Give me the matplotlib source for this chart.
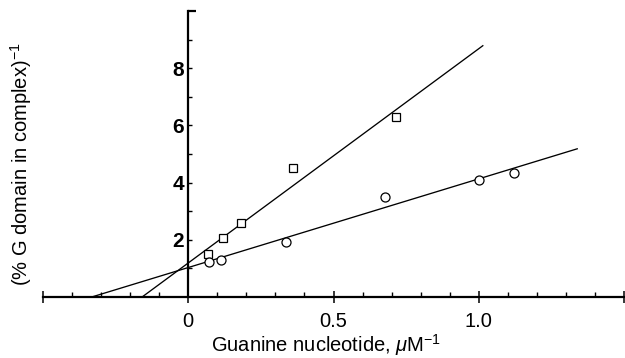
"""Double-reciprocal plot: G domain complex vs guanine nucleotide."""

import matplotlib

matplotlib.use("Agg")
import matplotlib.pyplot as plt  # noqa: E402
import numpy as np  # noqa: E402
from matplotlib.ticker import FixedLocator, MultipleLocator  # noqa: E402

plt.rcParams["font.family"] = ["Liberation Sans", "DejaVu Sans"]
plt.rcParams["mathtext.fontset"] = "custom"
plt.rcParams["mathtext.rm"] = "Liberation Sans"
plt.rcParams["mathtext.it"] = "Liberation Sans:italic"

INK = "black"

# squares
sq_x = [0.067, 0.12, 0.18, 0.36, 0.715]
sq_y = [1.50, 2.05, 2.57, 4.52, 6.28]
# circles
circ_x = [0.072, 0.113, 0.338, 0.678, 1.001, 1.123]
circ_y = [1.21, 1.31, 1.93, 3.49, 4.08, 4.34]

# fitted lines: slope, intercept, x range
sq_fit = (7.49, 1.19)
sq_fit_x = [-0.159, 1.014]
circ_fit = (3.10, 1.03)
circ_fit_x = [-0.332, 1.339]

x_major = [-0.5, 0, 0.5, 1.0, 1.5]
x_labels = ["", "0", "0.5", "1.0", ""]
y_major = [2, 4, 6, 8]

fig = plt.figure(figsize=(6.25, 3.58), dpi=100)
ax = fig.add_axes([0.0688, 0.1704, 0.9296, 0.799])
ax.set_xlim(-0.5, 1.5)
ax.set_ylim(0, 10)

for (m, b), xr in [(sq_fit, sq_fit_x), (circ_fit, circ_fit_x)]:
    xs = np.array(xr)
    ax.plot(xs, m * xs + b, color=INK, lw=0.95, clip_on=False)

ax.plot(sq_x, sq_y, ls="none", marker="s", ms=5.2, mfc="white", mec=INK, mew=0.9)
ax.plot(circ_x, circ_y, ls="none", marker="o", ms=6.5, mfc="white", mec=INK, mew=0.9)

# axes cross at the origin
for side in ("top", "right"):
    ax.spines[side].set_visible(False)
ax.spines["left"].set_position(("data", 0))
ax.spines["bottom"].set_position(("data", 0))
ax.spines["left"].set_linewidth(1.6)
ax.spines["bottom"].set_linewidth(1.6)
ax.spines["left"].set_bounds(0, 10)

ax.xaxis.set_major_locator(FixedLocator(x_major))
ax.set_xticklabels(x_labels)
ax.xaxis.set_minor_locator(MultipleLocator(0.1))
ax.tick_params(axis="x", which="major", direction="inout", length=9, width=1.1,
               pad=6, labelsize=14.5)
ax.tick_params(axis="x", which="minor", direction="in", length=3.5, width=1.0)

ax.yaxis.set_major_locator(FixedLocator(y_major))
ax.yaxis.set_minor_locator(FixedLocator([1, 3, 5, 7, 9]))
ax.tick_params(axis="y", which="major", direction="in", length=3, width=1.0,
               pad=3, labelsize=15)
ax.tick_params(axis="y", which="minor", direction="in", length=3, width=1.0)
for lbl in ax.get_yticklabels():
    lbl.set_fontweight("bold")

# cap at the top of the y axis
ax.plot([0, 0.025], [10, 10], color=INK, lw=1.6, clip_on=False, solid_capstyle="butt")

fig.text(0.522, 0.035, r"Guanine nucleotide, $\mathit{\mu}$M$^{-1}$",
         ha="center", va="center", fontsize=14.5)
fig.text(0.033, 0.54, r"(% G domain in complex)$^{-1}$", rotation=90,
         ha="center", va="center", fontsize=14.5)

fig.savefig("out.png", dpi=100, facecolor="white")
